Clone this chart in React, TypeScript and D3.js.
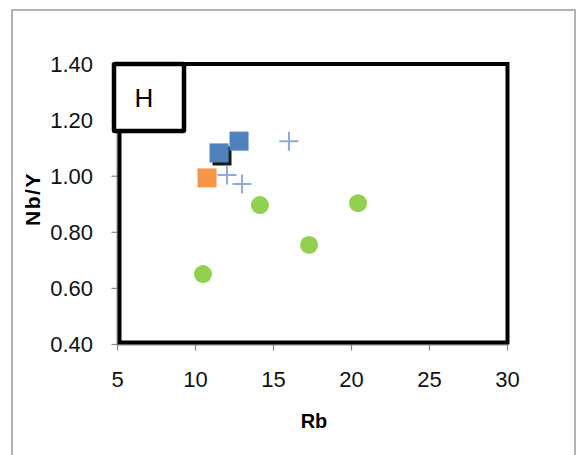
import React from "react";
import * as d3 from "d3";

const xTicks = [5, 10, 15, 20, 25, 30];
const yTicks = [0.4, 0.6, 0.8, 1.0, 1.2, 1.4];

const blueSquares = [
  { x: 11.51, y: 1.083 },
  { x: 12.79, y: 1.125 },
];
const blackSquares = [{ x: 11.7, y: 1.072 }];
const orangeSquares = [{ x: 10.74, y: 0.994 }];
const crosses = [
  { x: 12.02, y: 1.004 },
  { x: 12.98, y: 0.972 },
  { x: 15.99, y: 1.125 },
];
const greenCircles = [
  { x: 14.13, y: 0.897 },
  { x: 20.42, y: 0.904 },
  { x: 17.28, y: 0.755 },
  { x: 10.48, y: 0.651 },
];
const boxLabel = "H";
const xTitle = "Rb";
const yTitle = "Nb/Y";

const W = 576;
const H = 455;
const font = "'Liberation Sans', Arial, sans-serif";

export default function App() {
  const x = d3.scaleLinear().domain([5, 30]).range([117.5, 507.5]);
  const y = d3.scaleLinear().domain([0.4, 1.4]).range([344.5, 64]);
  const sq = 19;
  const axisColor = "#868686";

  return (
    <svg
      width={W}
      height={H}
      style={{ position: "absolute", left: 0, top: 0, background: "#fff" }}
    >
      {/* outer frame */}
      <path
        d={`M12,${H + 2} L12,10 L575,10 L575,${H + 2}`}
        fill="none"
        stroke="#9a9a9a"
        strokeWidth={1.5}
      />
      {/* axes */}
      <line x1={x(5)} x2={x(30)} y1={y(0.4) + 0.5} y2={y(0.4) + 0.5} stroke={axisColor} strokeWidth={1} />
      <line x1={x(5) - 0.5} x2={x(5) - 0.5} y1={y(1.4)} y2={y(0.4)} stroke={axisColor} strokeWidth={1} />
      {xTicks.map((t) => (
        <g key={"xt" + t}>
          <line x1={x(t)} x2={x(t)} y1={y(0.4)} y2={y(0.4) + 6} stroke={axisColor} strokeWidth={1.2} />
          <text
            x={x(t)}
            y={387}
            textAnchor="middle"
            fontFamily={font}
            fontSize={22}
            fill="#111"
          >
            {t}
          </text>
        </g>
      ))}
      {yTicks.map((t) => (
        <g key={"yt" + t}>
          <line x1={x(5) - 6} x2={x(5)} y1={y(t)} y2={y(t)} stroke={axisColor} strokeWidth={1.2} />
          <text
            x={93}
            y={y(t)}
            dy="0.36em"
            textAnchor="end"
            fontFamily={font}
            fontSize={22}
            fill="#111"
          >
            {t.toFixed(2)}
          </text>
        </g>
      ))}
      {/* thick black plot frame */}
      <rect
        x={x(5) + 2}
        y={y(1.4)}
        width={x(30) - x(5) - 2}
        height={y(0.4) - y(1.4) - 2}
        fill="none"
        stroke="#000"
        strokeWidth={4}
      />
      {/* H box */}
      <rect x={114} y={64} width={70} height={67} fill="#fff" stroke="#000" strokeWidth={4.5} rx={1} />
      <text x={144} y={107} textAnchor="middle" fontFamily={font} fontSize={26} fill="#000">
        {boxLabel}
      </text>
      {/* data */}
      {greenCircles.map((d, i) => (
        <circle key={"g" + i} cx={x(d.x)} cy={y(d.y)} r={9} fill="#92D050" />
      ))}
      {blackSquares.map((d, i) => (
        <rect key={"k" + i} x={x(d.x) - sq / 2} y={y(d.y) - sq / 2} width={sq} height={sq} fill="#1a1a1a" />
      ))}
      {blueSquares.map((d, i) => (
        <rect key={"b" + i} x={x(d.x) - sq / 2} y={y(d.y) - sq / 2} width={sq} height={sq} fill="#4F81BD" />
      ))}
      {orangeSquares.map((d, i) => (
        <rect key={"o" + i} x={x(d.x) - sq / 2} y={y(d.y) - sq / 2} width={sq} height={sq} fill="#F79646" />
      ))}
      {crosses.map((d, i) => (
        <path
          key={"c" + i}
          d={`M${x(d.x) - 9.5},${y(d.y)} h19 M${x(d.x)},${y(d.y) - 9.5} v19`}
          stroke="#8EA9DB"
          strokeWidth={2}
          fill="none"
        />
      ))}
      {/* axis titles */}
      <text
        x={314}
        y={428}
        textAnchor="middle"
        fontFamily={font}
        fontSize={20}
        fontWeight="bold"
        fill="#000"
      >
        {xTitle}
      </text>
      <text
        transform={`translate(40,${199}) rotate(-90)`}
        textAnchor="middle"
        fontFamily={font}
        fontSize={21}
        fontWeight="bold"
        letterSpacing={1.5}
        fill="#000"
      >
        {yTitle}
      </text>
    </svg>
  );
}
